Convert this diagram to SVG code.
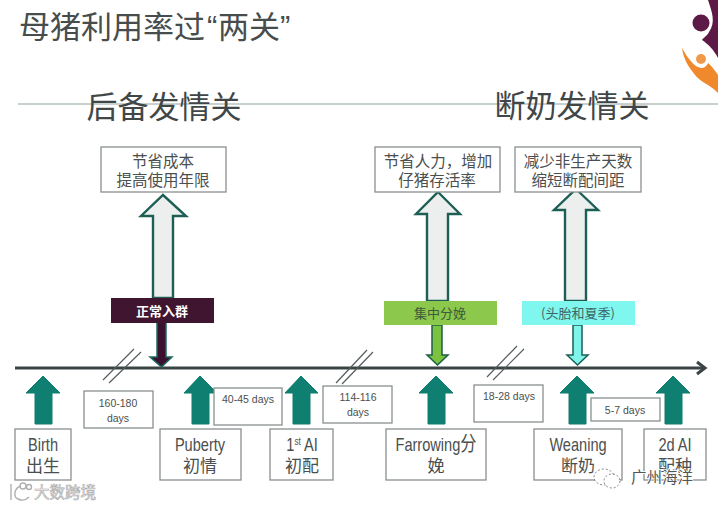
<svg xmlns="http://www.w3.org/2000/svg" width="718" height="507" viewBox="0 0 718 507">
<defs>
<style>
text{font-family:"Liberation Sans","Noto Sans CJK SC",sans-serif;fill:#4a4f4f;text-anchor:middle}
.cjk{font-family:"Noto Sans CJK SC","Liberation Sans",sans-serif}
.h{font-size:31px;fill:#414646}
.box{fill:#fff;stroke:#8a8f8f;stroke-width:1.3}
.up{fill:#edefef;stroke:#1d5f55;stroke-width:2.4}
.t{fill:#0e7f70;stroke:#0e7f70;stroke-width:1}
.s{font-size:15.5px}
.d{font-size:10.5px}
.m{font-size:17px}
.l{font-size:18px}
.sl{stroke:#555c5c;stroke-width:1.2;fill:none}
.wm{font-size:15.500px}
</style>
</defs>
<rect width="718" height="507" fill="#fff"/>
<line x1="18" y1="104" x2="718" y2="104" stroke="#c9d0d0" stroke-width="1.8"/>
<g id="title"><text class="cjk" x="19" y="38" font-size="31" style="fill:#474c4c;text-anchor:start">母猪利用率过<tspan x="207" style="font-family:'Liberation Sans'">“</tspan><tspan x="218">两关</tspan><tspan x="280" style="font-family:'Liberation Sans'">”</tspan></text></g>
<g id="head-left"><text class="cjk h" x="164" y="118">后备发情关</text></g>
<g id="head-right"><text class="cjk h" x="572" y="117">断奶发情关</text></g>
<g id="logo">
<circle cx="701" cy="23" r="8.500" fill="#5e1a47"/>
<path d="M708 0C712 12 716 22 709 32C707 36 703 38 702 40C708 44 714 50 718 58V0Z" fill="#5e1a47"/>
<path d="M682 48C685 53 687 57 690 60C693 64 697 68 702 68C705 68 707 65 708 63C712 66 715 71 718 75V93C713 88 708 85 703 82C698 79 695 75 692 71C687 65 683 56 682 48Z" fill="#f0882c"/>
<circle cx="701" cy="59" r="5" fill="#f0994a"/>
</g>
<g id="connectors">
<line x1="15" y1="368" x2="704" y2="368" stroke="#3b4444" stroke-width="3"/>
<path d="M697 362L705 368L697 374" fill="none" stroke="#3b4444" stroke-width="3"/>
<path class="sl" d="M103 380L134 349M109 383L141 352M336 383L367 350M342 384L373 352M487 377L517 346M493 380L524 349"/>
<path class="up" d="M163 195L186 216H173V298H153V216H141Z"/>
<path class="up" d="M438 192L460 214H448V301H427V214H416Z"/>
<path class="up" d="M576 189L598 210H586V301H565V210H554Z"/>
<path d="M157 320H166V357H172L161.500 367L150 357H157Z" fill="#3a1230" stroke="#1d6b5f" stroke-width="1.500"/>
<path d="M432 325H442V355H448L437.500 365L427 355H432Z" fill="#7cc241" stroke="#1d5f45" stroke-width="1.500"/>
<path d="M573 325H582V355H588L577.500 365L567 355H573Z" fill="#7ff5ea" stroke="#1d5f55" stroke-width="1.500"/>
<path class="t" d="M43 376L60 393H52V424H35V393H26Z"/>
<path class="t" d="M200 376L217 393H209V424H192V393H184Z"/>
<path class="t" d="M301 376L318 393H310V424H293V393H285Z"/>
<path class="t" d="M436 376L453 393H445V424H428V393H419Z"/>
<path class="t" d="M577 376L594 393H586V424H569V393H560Z"/>
<path class="t" d="M673 376L690 393H682V424H665V393H656Z"/>
</g>
<g id="note-1"><rect class="box" x="101" y="147" width="125" height="45"/><text class="s" x="163" y="167">节省成本</text><text class="s" x="163" y="186">提高使用年限</text></g>
<g id="note-2"><rect class="box" x="375" y="147" width="125" height="45"/><text class="s" x="438" y="167">节省人力，增加</text><text class="s" x="437" y="186">仔猪存活率</text></g>
<g id="note-3"><rect class="box" x="515" y="147" width="126" height="45"/><text class="s" x="578" y="167">减少非生产天数</text><text class="s" x="578" y="186">缩短断配间距</text></g>
<g id="band-1"><rect x="111" y="298" width="103" height="25" fill="#3f1530"/><text class="cjk" x="162" y="316" font-size="13" font-weight="700" style="fill:#fff">正常入群</text></g>
<g id="band-2"><rect x="384" y="301" width="113" height="24" fill="#8cc84b"/><text class="cjk" x="440" y="318" font-size="13" style="fill:#3d5a3a">集中分娩</text></g>
<g id="band-3"><rect x="522" y="301" width="113" height="24" fill="#7ff7ee"/><text class="cjk" x="578" y="318" font-size="13" style="fill:#3d6666">(头胎和夏季)</text></g>
<g id="days-1"><rect class="box" x="84" y="391" width="69" height="37"/><text class="d" x="118" y="407">160-180</text><text class="d" x="118" y="422">days</text></g>
<g id="days-2"><rect class="box" x="214" y="388" width="68" height="37"/><text class="d" x="248" y="403">40-45 days</text></g>
<g id="days-3"><rect class="box" x="323" y="386" width="69" height="37"/><text class="d" x="358" y="401">114-116</text><text class="d" x="358" y="416">days</text></g>
<g id="days-4"><rect class="box" x="474" y="385" width="69" height="37"/><text class="d" x="509" y="400">18-28 days</text></g>
<g id="days-5"><rect class="box" x="591" y="398" width="69" height="23"/><text class="d" x="625" y="414">5-7 days</text></g>
<g id="birth"><rect class="box" x="15" y="429" width="56" height="51"/><text class="l" transform="translate(43 451) scale(.81 1)">Birth</text><text class="m" x="43" y="472">出生</text></g>
<g id="puberty"><rect class="box" x="160" y="429" width="81" height="51"/><text class="l" transform="translate(200 451) scale(.81 1)">Puberty</text><text class="m" x="200" y="472">初情</text></g>
<g id="first-ai"><rect class="box" x="270" y="429" width="63" height="51"/><text class="l" transform="translate(302 451) scale(.81 1)">1<tspan font-size="10" dy="-6">st</tspan><tspan dy="6"> AI</tspan></text><text class="m" x="302" y="472">初配</text></g>
<g id="farrowing"><rect class="box" x="386" y="429" width="100" height="51"/><text class="l" transform="translate(436 451) scale(.81 1)">Farrowing<tspan font-size="20">分</tspan></text><text class="m" x="436" y="472">娩</text></g>
<g id="weaning"><rect class="box" x="534" y="429" width="88" height="51"/><text class="l" transform="translate(578 451) scale(.81 1)">Weaning</text><text class="m" x="578" y="472">断奶</text></g>
<g id="second-ai"><rect class="box" x="644" y="429" width="62" height="51"/><text class="l" transform="translate(675 451) scale(.81 1)">2d AI</text><text class="m" x="675" y="472">配种</text></g>
<g id="watermarks">
<text class="cjk wm" x="65" y="498" style="fill:#f4f4f4;stroke:#a8a8a8;stroke-width:.6">大数跨境</text>
<text class="cjk wm" x="662" y="483" style="fill:#555;stroke:#fff;stroke-width:1.500;paint-order:stroke">广州海洋</text>
<g fill="#fff" stroke="#666" stroke-width=".8" stroke-dasharray="2 2"><ellipse cx="604" cy="477" rx="10" ry="8"/><ellipse cx="612" cy="481" rx="8" ry="7"/></g>
<g fill="none" stroke="#b0b0b0" stroke-width="1.400"><path d="M11 484V500M21 486C14 488 13 497 18 499C22 501 26 500 29 497"/><circle cx="23" cy="486" r="3"/><circle cx="29" cy="487" r="2.500"/></g>
</g>
</svg>
